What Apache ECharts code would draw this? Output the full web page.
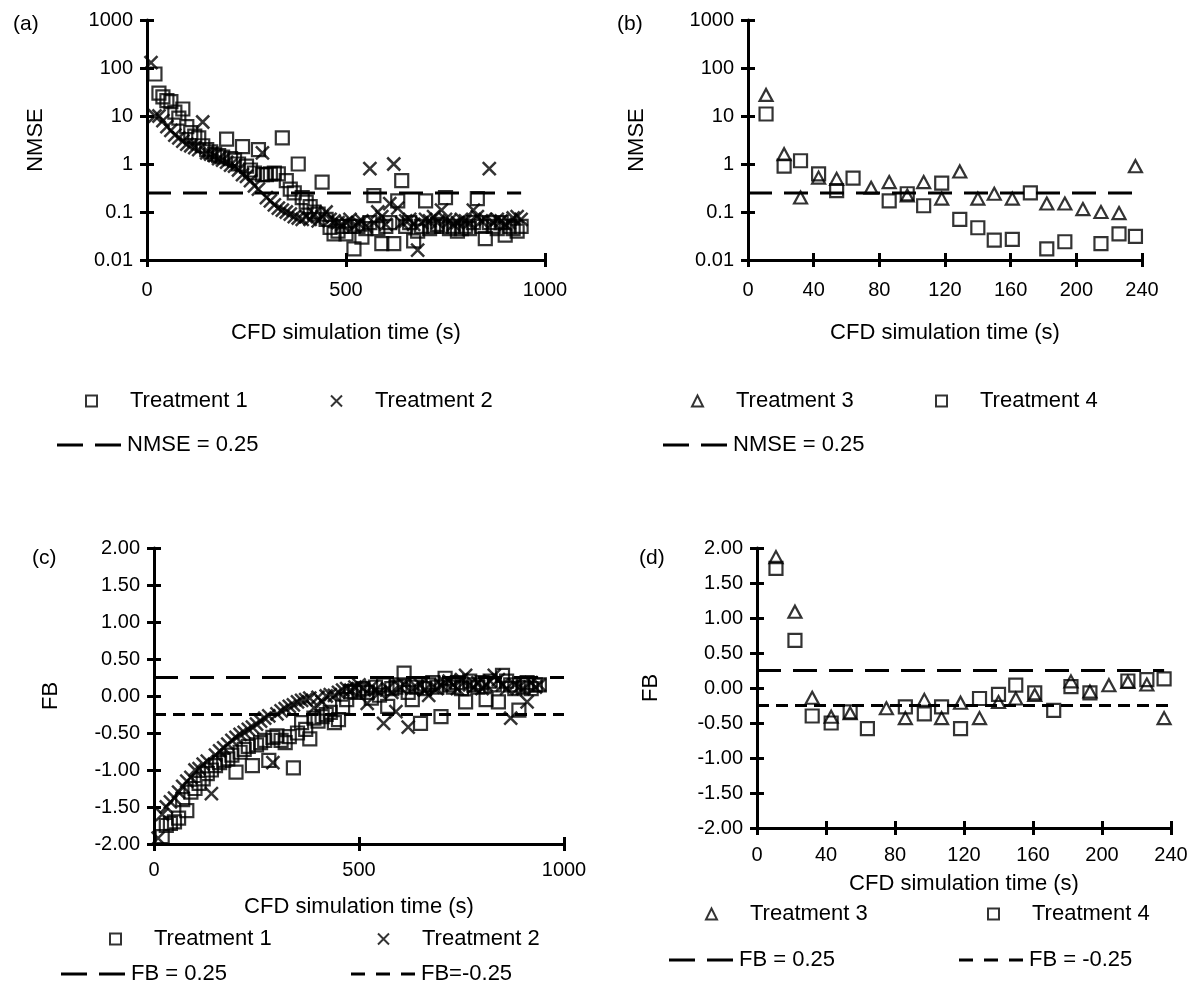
<!DOCTYPE html>
<html>
<head>
<meta charset="utf-8" />
<title>NMSE and FB</title>
<script src="https://cdn.jsdelivr.net/npm/echarts@6/dist/echarts.min.js"></script>
</head>
<body style="margin: 0; background: #fff">
<div id="chart" style="width: 1200px; height: 995px"></div>
<script type="text/javascript">
// sample times (s), treatments 1-2
const timesT1 = [20,30,40,50,60,70,80,90,100,110,120,130,140,150,160,170,180,190,200,210,220,230,240,250,260,270,280,290,300,310,320,330,340,350,360,370,380,390,400,410,420,430,440,450,460,470,480,490,500,510,520,530,540,550,560,570,580,590,600,610,620,630,640,650,660,670,680,690,700,710,720,730,740,750,760,770,780,790,800,810,820,830,840,850,860,870,880,890,900,910,920,930,940];
const timesT2 = [10,20,30,40,50,60,70,80,90,100,110,120,130,140,150,160,170,180,190,200,210,220,230,240,250,260,270,280,290,300,310,320,330,340,350,360,370,380,390,400,410,420,430,440,450,460,470,480,490,500,510,520,530,540,550,560,570,580,590,600,610,620,630,640,650,660,670,680,690,700,710,720,730,740,750,760,770,780,790,800,810,820,830,840,850,860,870,880,890,900,910,920,930,940];
// sample times (s), treatments 3-4
const timesT34 = [11,22,32,43,54,64,75,86,97,107,118,129,140,150,161,172,182,193,204,215,226,236];

// (a) NMSE
const nmseT1 = [75,30,25,21,20,12,9,14,6,4.5,3.8,3.5,2.4,2,1.8,1.6,1.5,1.4,3.3,1.3,1.2,1,2.3,0.9,0.75,0.65,2,0.6,0.6,0.62,0.65,0.62,3.5,0.45,0.3,0.25,1,0.2,0.16,0.13,0.1,0.09,0.42,0.07,0.048,0.035,0.04,0.05,0.035,0.05,0.017,0.05,0.03,0.045,0.06,0.22,0.045,0.022,0.05,0.06,0.022,0.17,0.45,0.05,0.06,0.025,0.04,0.05,0.17,0.045,0.05,0.055,0.05,0.2,0.045,0.05,0.04,0.045,0.05,0.045,0.06,0.19,0.05,0.028,0.06,0.05,0.045,0.06,0.033,0.05,0.045,0.04,0.05];
const nmseT2 = [130,10,10,8,6,5,4,3.5,3,2.6,2.4,2.2,2,7.5,1.7,1.6,1.5,1.3,1.2,1.1,0.95,0.9,0.75,0.6,0.55,0.45,0.35,0.3,1.7,0.2,0.17,0.14,0.12,0.11,0.1,0.09,0.08,0.075,0.07,0.08,0.07,0.09,0.065,0.08,0.1,0.07,0.065,0.06,0.055,0.06,0.07,0.05,0.06,0.065,0.05,0.8,0.06,0.1,0.08,0.055,0.15,1,0.12,0.06,0.065,0.07,0.055,0.016,0.06,0.07,0.065,0.08,0.06,0.11,0.07,0.065,0.055,0.06,0.07,0.065,0.06,0.11,0.08,0.065,0.07,0.8,0.06,0.07,0.065,0.055,0.06,0.075,0.08,0.07];
// (b) NMSE
const nmseT3 = [27.5,1.6,0.2,0.52,0.49,null,0.32,0.42,0.22,0.42,0.19,0.7,0.19,0.24,0.19,null,0.15,0.15,0.115,0.1,0.095,0.9];
const nmseT4 = [11,0.9,1.17,0.62,0.28,0.51,null,0.17,0.24,0.135,0.4,0.07,0.047,0.026,0.027,0.25,0.017,0.024,null,0.022,0.035,0.031];
// (c) FB
const fbT1 = [-1.9,-1.75,-1.72,-1.7,-1.65,-1.4,-1.55,-1.3,-1.25,-1.18,-1.12,-1.05,-1,-0.94,-0.9,-0.87,-0.85,-0.8,-1.03,-0.76,-0.72,-0.68,-0.94,-0.66,-0.63,-0.6,-0.87,-0.56,-0.54,-0.6,-0.63,-0.55,-0.97,-0.5,-0.36,-0.45,-0.58,-0.3,-0.34,-0.28,-0.25,-0.22,-0.36,-0.32,-0.15,-0.05,0.06,0.05,0.08,0.1,0.05,-0.03,0.12,0.01,0.15,-0.14,0.1,0.12,0.15,0.31,0.05,-0.05,0.12,-0.37,0.1,0.15,0.18,0.12,-0.28,0.24,0.15,0.12,0.18,0.1,-0.08,0.2,0.15,0.12,0.18,-0.05,0.2,0.15,-0.08,0.28,0.2,0.15,0.1,-0.19,0.12,0.18,0.1,0.15,0.15];
const fbT2 = [-1.92,-1.6,-1.5,-1.43,-1.38,-1.3,-1.22,-1.15,-1.1,-1,-0.98,-0.92,-0.88,-1.32,-0.8,-0.74,-0.7,-0.65,-0.6,-0.56,-0.52,-0.49,-0.45,-0.42,-0.38,-0.34,-0.3,-0.27,-0.9,-0.24,-0.2,-0.17,-0.14,-0.12,-0.08,-0.06,-0.05,-0.03,-0.16,-0.02,-0.08,0,0.02,0.01,0.05,0.08,0.1,0.08,0.12,0.15,0.1,-0.1,0.12,0.08,0.05,-0.37,0.1,0.05,-0.21,0.12,0.15,-0.42,0.1,0.12,0.15,0.08,0.01,0.12,0.1,0.15,0.18,0.2,0.15,0.1,0.22,0.28,0.15,0.12,0.18,0.1,0.15,0.2,0.28,0.22,0.15,0.1,-0.3,0.15,0.12,0.1,-0.08,0.18,0.12,0.15];
// (d) FB
const fbT3 = [1.87,1.09,-0.14,-0.41,-0.36,null,-0.29,-0.43,-0.17,-0.43,-0.21,-0.43,-0.2,-0.15,-0.1,null,0.095,-0.05,0.04,0.085,0.05,-0.43];
const fbT4 = [1.71,0.68,-0.4,-0.5,-0.34,-0.58,null,-0.27,-0.37,-0.27,-0.58,-0.15,-0.09,0.04,-0.07,-0.32,0.02,-0.07,null,0.1,0.12,0.13];

// reference limits and the span each dashed line covers
const nmseLimit = 0.25;
const fbUpper = 0.25;
const fbLower = -0.25;
const spanA = [0, 940];
const spanB = [0, 240];
const spanC = [0, 1000];
const spanDUpper = [0, 236];
const spanDLower = [0, 240];

const FONT = "Liberation Sans";
const BLACK = "#000";

function pairs(xs, ys) {
  const out = [];
  xs.forEach(function (x, i) {
    if (ys[i] !== null) out.push([x, ys[i]]);
  });
  return out;
}

const SQUARE = { symbol: "rect", symbolSize: 13, stroke: 2.2 };
const CROSS = { symbol: "path://M0,0L10,10M10,0L0,10", symbolSize: 13, stroke: 2.5 };
const TRIANGLE = { symbol: "triangle", symbolSize: [13, 12], stroke: 2.2 };

function scatter(name, shape, xi, data) {
  return {
    type: "scatter",
    name: name,
    xAxisIndex: xi,
    yAxisIndex: xi,
    symbol: shape.symbol,
    symbolSize: shape.symbolSize,
    itemStyle: { color: "rgba(0,0,0,0)", borderColor: BLACK, borderWidth: shape.stroke },
    data: data,
    z: 3,
  };
}

function limitLine(name, xi, span, y, dash) {
  return {
    type: "line",
    name: name,
    xAxisIndex: xi,
    yAxisIndex: xi,
    symbol: "none",
    silent: true,
    lineStyle: { color: BLACK, width: 3, type: dash },
    data: [[span[0], y], [span[1], y]],
    z: 2,
  };
}

const LONG = [24, 12];
const SHORT = [12, 7];

const tickStyle = { color: BLACK, width: 3 };

function xAxisFor(gi, max, interval, nameGap, margin) {
  return {
    type: "value",
    gridIndex: gi,
    position: "bottom",
    min: 0,
    max: max,
    interval: interval,
    name: "CFD simulation time (s)",
    nameLocation: "middle",
    nameGap: nameGap,
    nameTextStyle: { fontSize: 22, color: BLACK, fontFamily: FONT },
    axisLine: { onZero: false, lineStyle: { color: BLACK, width: 3 } },
    axisTick: { length: 7, lineStyle: tickStyle },
    axisLabel: { fontSize: 20, color: BLACK, fontFamily: FONT, margin: margin, formatter: function (v) { return String(v); } },
    splitLine: { show: false },
  };
}

function yRange(ax, isLog) {
  if (isLog) {
    ax.type = "log";
    ax.logBase = 10;
    ax.min = 0.01;
    ax.max = 1000;
  } else {
    ax.type = "value";
    ax.min = -2;
    ax.max = 2;
    ax.interval = 0.5;
  }
  return ax;
}

function yAxisFor(gi, isLog, name, nameGap) {
  const ax = {
    gridIndex: gi,
    position: "left",
    name: name,
    nameLocation: "middle",
    nameGap: nameGap,
    nameTextStyle: { fontSize: 22, color: BLACK, fontFamily: FONT },
    axisLine: { onZero: false, lineStyle: { color: BLACK, width: 3 } },
    axisTick: { length: 7, lineStyle: tickStyle },
    axisLabel: { fontSize: 20, color: BLACK, fontFamily: FONT, margin: 14 },
    splitLine: { show: false },
  };
  ax.axisLabel.formatter = isLog
    ? function (v) { return v >= 1 ? String(Math.round(v)) : String(parseFloat(v.toPrecision(1))); }
    : function (v) { return v.toFixed(2); };
  return yRange(ax, isLog);
}

// second copy of each axis, only for the inner half of the crossing ticks
function innerX(gi, max, interval) {
  return {
    type: "value", gridIndex: gi, position: "bottom", min: 0, max: max, interval: interval,
    axisLine: { show: false, onZero: false },
    axisTick: { inside: true, length: 7, lineStyle: tickStyle },
    axisLabel: { show: false }, splitLine: { show: false },
  };
}
function innerY(gi, isLog) {
  return yRange({
    gridIndex: gi, position: "left",
    axisLine: { show: false, onZero: false },
    axisTick: { inside: true, length: 7, lineStyle: tickStyle },
    axisLabel: { show: false }, splitLine: { show: false },
  }, isLog);
}

// dash icons for the legend
const LONG_ICON = "path://M0,0h26v3h-26z M38,0h26v3h-26z";
const SHORT_ICON = "path://M0,0h14v3h-14z M25,0h14v3h-14z M50,0h14v3h-14z";

function markerLegend(name, left, top) {
  return {
    data: [name],
    left: left,
    top: top,
    itemWidth: 11,
    itemHeight: 11,
    selectedMode: false,
    itemStyle: { color: "rgba(0,0,0,0)", borderColor: BLACK, borderWidth: 2 },
    textStyle: { fontSize: 22, color: BLACK, fontFamily: FONT, padding: [0, 0, 0, 28] },
  };
}

function lineLegend(name, icon, left, top) {
  return {
    data: [{ name: name, icon: icon }],
    left: left,
    top: top,
    itemWidth: 66,
    itemHeight: 3,
    itemGap: 0,
    selectedMode: false,
    itemStyle: { color: BLACK, borderWidth: 0 },
    textStyle: { fontSize: 22, color: BLACK, fontFamily: FONT },
  };
}

function panelLabel(text, left, top) {
  return { text: text, left: left, top: top, textStyle: { fontSize: 21, fontWeight: "normal", color: BLACK, fontFamily: FONT } };
}

const chart = echarts.init(document.getElementById("chart"), null, { renderer: "canvas" });

chart.setOption({
  backgroundColor: "#fff",
  animation: false,
  title: [
    panelLabel("(a)", 8, 9),
    panelLabel("(b)", 612, 9),
    panelLabel("(c)", 27, 543),
    panelLabel("(d)", 634, 543),
  ],
  grid: [
    { left: 147, top: 20, width: 398, height: 240 },
    { left: 748, top: 20, width: 394, height: 240 },
    { left: 154, top: 548, width: 410, height: 296 },
    { left: 757, top: 548, width: 414, height: 280 },
  ],
  xAxis: [
    xAxisFor(0, 1000, 500, 62, 20),
    xAxisFor(1, 240, 40, 62, 20),
    xAxisFor(2, 1000, 500, 52, 16),
    xAxisFor(3, 240, 40, 45, 17),
    innerX(0, 1000, 500),
    innerX(1, 240, 40),
    innerX(2, 1000, 500),
    innerX(3, 240, 40),
  ],
  yAxis: [
    yAxisFor(0, true, "NMSE", 100),
    yAxisFor(1, true, "NMSE", 100),
    yAxisFor(2, false, "FB", 92),
    yAxisFor(3, false, "FB", 95),
    innerY(0, true),
    innerY(1, true),
    innerY(2, false),
    innerY(3, false),
  ],
  legend: [
    markerLegend("Treatment 1", 80, 385),
    markerLegend("Treatment 2", 325, 385),
    lineLegend("NMSE = 0.25", LONG_ICON, 52, 429),
    markerLegend("Treatment 3", 686, 385),
    markerLegend("Treatment 4", 930, 385),
    lineLegend("NMSE = 0.25", LONG_ICON, 658, 429),
    markerLegend("Treatment 1", 104, 923),
    markerLegend("Treatment 2", 372, 923),
    lineLegend("FB = 0.25", LONG_ICON, 56, 958),
    lineLegend("FB=-0.25", SHORT_ICON, 346, 958),
    markerLegend("Treatment 3", 700, 898),
    markerLegend("Treatment 4", 982, 898),
    lineLegend("FB = 0.25", LONG_ICON, 664, 944),
    lineLegend("FB = -0.25", SHORT_ICON, 954, 944),
  ],
  series: [
    limitLine("NMSE = 0.25", 0, spanA, nmseLimit, LONG),
    scatter("Treatment 1", SQUARE, 0, pairs(timesT1, nmseT1)),
    scatter("Treatment 2", CROSS, 0, pairs(timesT2, nmseT2)),

    limitLine("NMSE = 0.25", 1, spanB, nmseLimit, LONG),
    scatter("Treatment 3", TRIANGLE, 1, pairs(timesT34, nmseT3)),
    scatter("Treatment 4", SQUARE, 1, pairs(timesT34, nmseT4)),

    limitLine("FB = 0.25", 2, spanC, fbUpper, LONG),
    limitLine("FB=-0.25", 2, spanC, fbLower, SHORT),
    scatter("Treatment 1", SQUARE, 2, pairs(timesT1, fbT1)),
    scatter("Treatment 2", CROSS, 2, pairs(timesT2, fbT2)),

    limitLine("FB = 0.25", 3, spanDUpper, fbUpper, LONG),
    limitLine("FB = -0.25", 3, spanDLower, fbLower, SHORT),
    scatter("Treatment 3", TRIANGLE, 3, pairs(timesT34, fbT3)),
    scatter("Treatment 4", SQUARE, 3, pairs(timesT34, fbT4)),
  ],
});
</script>
</body>
</html>
